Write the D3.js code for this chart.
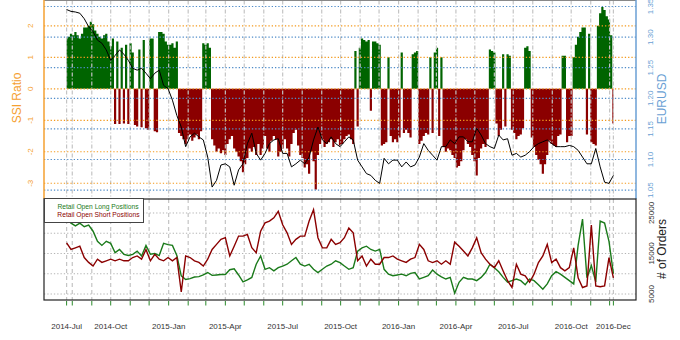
<!DOCTYPE html>
<html lang="en">
<head>
<meta charset="utf-8">
<title>SSI Ratio vs EURUSD</title>
<script src="https://d3js.org/d3.v7.min.js"></script>
<style>
body { margin: 0; background: #fff; }
text { font-family: "Liberation Sans", Arial, sans-serif; }
</style>
</head>
<body>
<script>
var w = 680, h = 340;
var left = 44, right = 636;
var topY0 = 0.5, topY1 = 199, botY0 = 199, botY1 = 300;

// observations: SSI every half week, the rest weekly
var startDate = new Date(Date.UTC(2014, 6, 23));
var endDate = new Date(Date.UTC(2016, 11, 7));

var ssi = [
  1.6,1.65,1.75,1.7,1.8,1.7,1.6,1.75,1.95,1.95,2.0,2.13,2.05,1.85,1.75,1.65,1.6,1.7,1.75,1.5,1.35,1.6,
  -1.12,1.5,-1.12,1.3,-1.1,1.4,-1.12,1.45,1.15,-1.15,-1.2,1.25,-1.22,1.55,-1.25,-1.3,1.6,1.6,-1.35,-1.38,
  1.8,1.8,1.75,1.5,1.4,1.4,1.45,1.3,1.5,-1.4,-1.5,-1.6,-1.75,-1.6,-1.45,-1.65,-1.55,-1.45,-1.6,-1.35,
  1.45,1.4,1.45,1.3,-1.6,-1.8,-2.0,-1.9,-2.05,-1.95,-2.1,-1.75,-1.6,-1.5,-1.9,-2.0,-2.15,-2.3,-2.65,-2.4,-2.2,-1.9,
  -2.0,-1.85,-2.1,-1.75,-2.1,-1.9,-1.5,-1.9,-2.0,-1.65,-1.5,-1.6,-2.15,-2.0,-1.9,-1.6,-1.9,-2.15,-1.75,-1.4,-1.3,
  -1.8,-2.1,-2.2,-2.5,-2.4,-2.7,-2.0,-2.3,-3.2,-2.1,-1.75,-1.6,-1.85,-1.75,-1.7,-1.6,-1.85,-1.7,-1.6,-1.8,-1.75,-1.6,-1.5,-1.45,-1.6,-1.75,
  1.2,-1.2,1.3,1.6,1.55,1.5,1.55,-0.7,1.5,1.5,1.45,1.4,-1.8,-1.75,-1.7,1.0,-1.5,-1.7,-1.6,-1.7,-1.55,1.15,-1.4,-1.3,-1.4,-1.55,1.1,1.15,1.2,-1.75,-1.65,-1.5,-1.4,-1.45,1.0,
  -1.4,1.15,1.3,-1.5,1.0,-1.85,-2.0,-1.9,-1.95,-2.1,-2.2,-2.5,-2.45,-2.3,-1.95,
  -1.6,-1.75,-1.85,-2.1,-2.3,-2.75,-2.2,-1.9,-1.75,-1.85,-1.6,
  1.25,1.2,1.15,-1.1,-1.5,-1.3,1.1,-1.2,1.1,1.05,
  -1.3,-1.4,-1.6,-1.5,-1.45,-1.25,1.3,1.35,1.2,
  -1.55,-1.85,-2.1,-2.25,-2.4,-2.7,-2.4,-2.1,-1.65,-1.75,-1.8,-1.85,-1.5,-1.45,
  1.05,1.05,-1.7,-1.5,-1.5,1.0,1.4,1.65,1.8,1.95,1.95,-1.45,1.75,-1.7,-1.75,-1.8,
  2.0,2.4,2.6,2.5,2.3,2.2,1.7,-1.1
];

var eurusd = [
  1.345,1.342,1.341,1.339,1.330,1.317,1.309,1.295,1.290,1.279,1.262,1.270,1.279,1.272,1.262,1.249,1.246,1.249,1.241,1.232,1.241,
  1.246,1.221,1.216,1.197,1.172,1.153,1.121,1.137,1.143,1.137,1.132,1.104,1.055,1.066,1.091,1.093,1.088,1.058,1.083,1.093,1.126,
  1.143,1.110,1.099,1.110,1.126,1.132,1.134,1.110,1.110,1.088,1.093,1.099,1.093,1.104,1.132,1.153,1.132,1.126,1.137,1.126,1.121,
  1.129,1.137,1.132,1.099,1.088,1.077,1.074,1.066,1.061,1.102,1.093,1.099,1.099,1.088,1.096,1.088,1.091,1.104,1.126,1.115,
  1.107,1.099,1.121,1.121,1.132,1.126,1.137,1.137,1.129,1.129,1.151,1.140,1.126,1.121,1.118,1.140,1.132,1.134,1.107,1.110,1.104,
  1.107,1.113,1.121,1.126,1.129,1.132,1.126,1.121,1.121,1.121,1.123,1.121,1.115,1.104,1.093,1.093,1.118,1.088,1.063,1.061,1.074
];

var longPos = [
  23500,22500,21800,22500,21600,22000,20500,18000,17000,18000,17500,15200,16000,14800,14500,14800,15600,14400,17000,14800,15000,
  14500,17500,17200,17000,14500,9500,8600,8800,9200,9300,9700,10300,9600,9700,9800,9800,11000,11200,9700,8000,8500,
  9100,12350,14400,11100,11500,10700,11500,11900,12350,13200,14000,12350,11900,12350,11100,10300,11100,11900,12350,13200,12750,
  11900,11100,11500,15600,16400,16800,16000,15600,16000,11100,9900,9500,9700,9900,9500,10100,10300,8700,9100,9500,
  10900,9900,9250,8700,9100,5200,7900,9100,8700,8700,8300,9100,10300,12350,11500,10500,9100,7900,8300,8700,8300,
  7300,8700,8300,7300,6200,7500,9500,10500,9900,9100,8300,7500,17000,23500,9000,12000,8000,23000,22500,18000,10000
];

var shortPos = [
  17650,16000,16400,16800,14000,12800,11900,13600,12800,13200,13600,13200,13600,13200,13200,14000,14400,13600,16000,13200,14800,
  13600,13200,14000,13200,14000,5500,14400,14000,13200,12800,11900,13600,16000,17250,18500,18900,14400,16800,19300,19300,19700,
  16430,15200,20500,22550,23000,23800,25400,22100,20100,17250,18500,19300,19300,23000,25800,18900,16400,16400,18500,17250,17650,
  18900,21300,20100,13200,14400,11900,13600,12350,12350,14000,14000,14400,13600,13200,12800,13600,14000,17250,16000,13200,
  12750,13200,12350,13200,12350,17800,16800,15600,14400,16400,18900,15200,13600,12350,11500,13200,10700,8270,6640,12350,9900,
  9500,7900,9900,12750,14400,17250,12750,13600,11500,10700,11500,16400,9000,6600,7000,22000,7000,6800,7000,14000,9000
];

var ssiTicks = [2, 1, 0, -1, -2, -3];
var eurTicks = [1.05, 1.10, 1.15, 1.20, 1.25, 1.30, 1.35];
var orderGrid = [5000, 10000, 15000, 20000, 25000];
var orderLabels = [5000, 15000, 25000];
var xLabelDates = ["2014-07-23","2014-10-01","2015-01-01","2015-04-01","2015-07-01","2015-10-01",
                   "2016-01-01","2016-04-01","2016-07-01","2016-10-01","2016-12-07"];
var xLabels = ["2014-Jul","2014-Oct","2015-Jan","2015-Apr","2015-Jul","2015-Oct",
               "2016-Jan","2016-Apr","2016-Jul","2016-Oct","2016-Dec"];

var orange = "#F5A030", orangeGrid = "#F39A1E";
var blue = "#6A9FD4", blueGrid = "#4F8CC9";
var grey = "#C4C4C4";
var barGreen = "#006400", barRed = "#8B0000";
var lineGreen = "#1A7A1A", lineRed = "#8B0000";

var ssiData = ssi.map(function(v, j){ return {date: d3.utcHour.offset(startDate, 84 * j), v: v}; });
var weekDates = eurusd.map(function(v, i){ return d3.utcDay.offset(startDate, 7 * i); });

var svg = d3.select("body").append("svg").attr("width", w).attr("height", h);

var x = d3.scaleUtc().domain([startDate, endDate]).range([66.6, 613.4]);
var ySSI = d3.scaleLinear().domain([-3.5, 2.82]).range([199, 0]);
var yEur = d3.scaleLinear().domain([1.0355, 1.3606]).range([199, 0]);
var yOrd = d3.scaleLinear().domain([3520, 28700]).range([300, 198]);

var tickDates = [startDate].concat(d3.utcMonth.range(new Date(Date.UTC(2014, 7, 1)), endDate)).concat([endDate]);

svg.append("clipPath").attr("id", "clipTop")
  .append("rect").attr("x", left).attr("y", topY0).attr("width", right - left).attr("height", topY1 - topY0);
svg.append("clipPath").attr("id", "clipBot")
  .append("rect").attr("x", left).attr("y", botY0).attr("width", right - left).attr("height", botY1 - botY0);

// ---- top panel ----
var gt = svg.append("g").attr("clip-path", "url(#clipTop)");

// SSI histogram as stepped areas (one for longs, one for shorts) so no seams show
var posArea = d3.area()
  .curve(d3.curveStep)
  .x(function(d){ return x(d.date); })
  .y0(ySSI(0))
  .y1(function(d){ return ySSI(Math.max(0, d.v)); });
var negArea = d3.area()
  .curve(d3.curveStep)
  .x(function(d){ return x(d.date); })
  .y0(ySSI(0))
  .y1(function(d){ return ySSI(Math.min(0, d.v)); });

gt.append("path").datum(ssiData).attr("fill", barGreen).attr("d", posArea);
gt.append("path").datum(ssiData).attr("fill", barRed).attr("d", negArea);

gt.selectAll("line.vgrid")
  .data(tickDates)
  .enter()
  .append("line")
  .attr("x1", function(d){ return x(d); }).attr("x2", function(d){ return x(d); })
  .attr("y1", topY0).attr("y2", topY1)
  .attr("stroke", grey).attr("stroke-width", 1.2)
  .attr("stroke-dasharray", "4,2,1,2");

gt.selectAll("line.ogrid")
  .data(ssiTicks)
  .enter()
  .append("line")
  .attr("x1", left).attr("x2", right)
  .attr("y1", function(d){ return ySSI(d); }).attr("y2", function(d){ return ySSI(d); })
  .attr("stroke", orangeGrid).attr("stroke-width", 1.2)
  .attr("stroke-dasharray", "1.3,2");

gt.selectAll("line.bgrid")
  .data(eurTicks)
  .enter()
  .append("line")
  .attr("x1", left).attr("x2", right)
  .attr("y1", function(d){ return yEur(d); }).attr("y2", function(d){ return yEur(d); })
  .attr("stroke", blueGrid).attr("stroke-width", 1.2)
  .attr("stroke-dasharray", "1.3,2");

gt.append("path")
  .datum(eurusd)
  .attr("fill", "none")
  .attr("stroke", "#000")
  .attr("stroke-width", 1)
  .attr("d", d3.line()
    .x(function(d, i){ return x(weekDates[i]); })
    .y(function(d){ return yEur(d); }));

// frame of top panel
svg.append("line").attr("x1", left).attr("x2", right).attr("y1", 0.5).attr("y2", 0.5)
  .attr("stroke", "#888").attr("stroke-width", 1);
svg.append("line").attr("x1", left).attr("x2", left).attr("y1", 0).attr("y2", topY1)
  .attr("stroke", orange).attr("stroke-width", 1.5);
svg.append("line").attr("x1", right).attr("x2", right).attr("y1", 0).attr("y2", topY1)
  .attr("stroke", blue).attr("stroke-width", 1.5);

svg.selectAll("text.ssiLab")
  .data(ssiTicks)
  .enter()
  .append("text")
  .attr("transform", function(d){ return "translate(30.5," + ySSI(d) + ") rotate(-90)"; })
  .attr("dy", "0.35em")
  .attr("text-anchor", "middle")
  .attr("font-size", 8)
  .attr("fill", orange)
  .text(function(d){ return d; });

svg.selectAll("text.eurLab")
  .data(eurTicks)
  .enter()
  .append("text")
  .attr("transform", function(d){ return "translate(650," + yEur(d) + ") rotate(-90)"; })
  .attr("dy", "0.35em")
  .attr("text-anchor", "middle")
  .attr("font-size", 8)
  .attr("fill", blue)
  .text(function(d){ return d.toFixed(2); });

svg.append("text")
  .attr("transform", "translate(17,98) rotate(-90)")
  .attr("dy", "0.35em")
  .attr("text-anchor", "middle")
  .attr("font-size", 12)
  .attr("fill", orange)
  .text("SSI Ratio");

svg.append("text")
  .attr("transform", "translate(662,99) rotate(-90)")
  .attr("dy", "0.35em")
  .attr("text-anchor", "middle")
  .attr("font-size", 12)
  .attr("fill", blue)
  .text("EURUSD");

// ---- bottom panel ----
var gb = svg.append("g").attr("clip-path", "url(#clipBot)");

gb.selectAll("line.vgrid2")
  .data(tickDates)
  .enter()
  .append("line")
  .attr("x1", function(d){ return x(d); }).attr("x2", function(d){ return x(d); })
  .attr("y1", botY0).attr("y2", botY1)
  .attr("stroke", grey).attr("stroke-width", 1.2)
  .attr("stroke-dasharray", "4,3");

gb.selectAll("line.hgrid2")
  .data(orderGrid)
  .enter()
  .append("line")
  .attr("x1", left).attr("x2", right)
  .attr("y1", function(d){ return yOrd(d); }).attr("y2", function(d){ return yOrd(d); })
  .attr("stroke", "#B4B4B4").attr("stroke-width", 1)
  .attr("stroke-dasharray", "1.3,2");

var ordLine = d3.line()
  .x(function(d, i){ return x(weekDates[i]); })
  .y(function(d){ return yOrd(d); });

gb.append("path").datum(longPos)
  .attr("fill", "none").attr("stroke", lineGreen).attr("stroke-width", 1.4)
  .attr("d", ordLine);
gb.append("path").datum(shortPos)
  .attr("fill", "none").attr("stroke", lineRed).attr("stroke-width", 1.4)
  .attr("d", ordLine);

svg.append("rect")
  .attr("x", left).attr("y", botY0).attr("width", right - left).attr("height", botY1 - botY0)
  .attr("fill", "none").attr("stroke", "#222").attr("stroke-width", 1.2);

svg.selectAll("text.ordLab")
  .data(orderLabels)
  .enter()
  .append("text")
  .attr("transform", function(d){ return "translate(651," + yOrd(d) + ") rotate(-90)"; })
  .attr("dy", "0.35em")
  .attr("text-anchor", "middle")
  .attr("font-size", 8)
  .attr("fill", "#333")
  .text(function(d){ return d; });

svg.append("text")
  .attr("transform", "translate(662,249) rotate(-90)")
  .attr("dy", "0.35em")
  .attr("text-anchor", "middle")
  .attr("font-size", 12)
  .attr("fill", "#222")
  .text("# of Orders");

// legend
var lg = svg.append("g");
lg.append("rect").attr("x", 44.5).attr("y", 198.5).attr("width", 99).attr("height", 24)
  .attr("fill", "#fff").attr("stroke", "#444").attr("stroke-width", 1);
lg.append("text").attr("x", 138.5).attr("y", 208.5).attr("text-anchor", "end")
  .attr("font-size", 6.7).attr("fill", lineGreen).text("Retail Open Long Positions");
lg.append("text").attr("x", 139.5).attr("y", 216.8).attr("text-anchor", "end")
  .attr("font-size", 6.7).attr("fill", lineRed).text("Retail Open Short Positions");

// x axis ticks and labels
svg.selectAll("line.xtick")
  .data(tickDates)
  .enter()
  .append("line")
  .attr("x1", function(d){ return x(d); }).attr("x2", function(d){ return x(d); })
  .attr("y1", 301).attr("y2", 305.5)
  .attr("stroke", "#2A8A2A").attr("stroke-width", 1);

svg.selectAll("text.xlab")
  .data(xLabelDates)
  .enter()
  .append("text")
  .attr("x", function(d){ return x(new Date(d + "T00:00:00Z")); })
  .attr("y", 329)
  .attr("text-anchor", "middle")
  .attr("font-size", 8)
  .attr("fill", "#333")
  .text(function(d, i){ return xLabels[i]; });
</script>
</body>
</html>
